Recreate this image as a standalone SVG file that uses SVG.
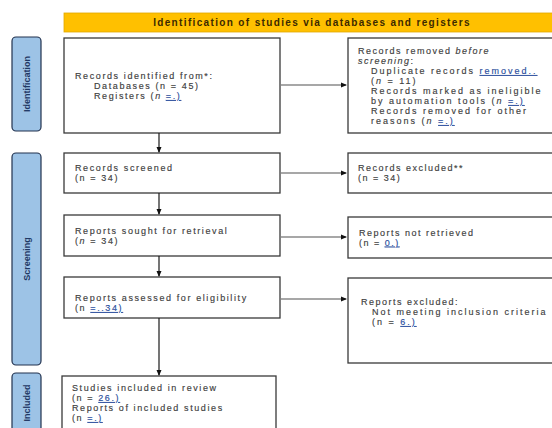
<svg xmlns="http://www.w3.org/2000/svg" width="552" height="428" viewBox="0 0 552 428">
<defs>
<marker id="ah" markerWidth="6" markerHeight="6" refX="5" refY="3" orient="auto" markerUnits="userSpaceOnUse">
<path d="M0,0.5 L6,3 L0,5.5 Z" fill="#111"/>
</marker>
<style>
.box{fill:#fff;stroke:#3a3a3a;stroke-width:1.3}
.bar{fill:#9dc3e6;stroke:#22324f;stroke-width:1.2}
.hdr{fill:#ffc000;stroke:#e0a800;stroke-width:0.8}
.t{font-family:"Liberation Sans",Arial,sans-serif;font-size:9px;fill:#404040;stroke:#404040;stroke-width:0.15;letter-spacing:1.6px}
.r{letter-spacing:1.5px}
.i{letter-spacing:2px}
.ht{font-family:"Liberation Sans",Arial,sans-serif;font-size:10px;font-weight:bold;fill:#3b2a00;letter-spacing:1.35px}
.st{font-family:"Liberation Sans",Arial,sans-serif;font-size:9px;font-weight:bold;fill:#1f3864}
.lk{fill:#2a4d9c;stroke:#2a4d9c;text-decoration:underline}
.v{stroke:#1a1a1a;stroke-width:1.2;fill:none}
.h{stroke:#8a8a8a;stroke-width:1.6;fill:none}
</style>
</defs>
<rect width="552" height="428" fill="#fff"/>

<g id="header">
<rect class="hdr" x="64" y="13" width="500" height="19"/>
<text class="ht" x="312" y="26" text-anchor="middle">Identification of studies via databases and registers</text>
</g>

<g id="bar-identification">
<rect class="bar" x="12" y="37" width="29" height="94" rx="4"/>
<text class="st" transform="translate(29.5,84) rotate(-90)" text-anchor="middle">Identification</text>
</g>
<g id="bar-screening">
<rect class="bar" x="12" y="153" width="29" height="212" rx="4"/>
<text class="st" transform="translate(29.5,259) rotate(-90)" text-anchor="middle">Screening</text>
</g>
<g id="bar-included">
<rect class="bar" x="12" y="373" width="29" height="64" rx="4"/>
<text class="st" transform="translate(29.5,403) rotate(-90)" text-anchor="middle">Included</text>
</g>

<g id="identified">
<rect class="box" x="64" y="38" width="216" height="95"/>
<text class="t" x="75" y="79">Records identified from*:</text>
<text class="t" x="94" y="89">Databases (n = 45)</text>
<text class="t" x="94" y="99">Registers (<tspan font-style="italic">n</tspan> <tspan class="lk">=.)</tspan></text>
</g>

<g id="removed">
<rect class="box" x="348" y="38" width="220" height="95"/>
<text class="t r" x="358" y="54">Records removed <tspan font-style="italic">before</tspan></text>
<text class="t r" x="358" y="64"><tspan font-style="italic">screening</tspan>:</text>
<text class="t i" x="371" y="74">Duplicate records <tspan class="lk">removed..</tspan></text>
<text class="t i" x="371" y="84">(<tspan font-style="italic">n</tspan> = 11)</text>
<text class="t i" x="371" y="94">Records marked as ineligible</text>
<text class="t i" x="371" y="104">by automation tools (<tspan font-style="italic">n</tspan> <tspan class="lk">=.)</tspan></text>
<text class="t i" x="371" y="114">Records removed for other</text>
<text class="t i" x="371" y="124">reasons (<tspan font-style="italic">n</tspan> <tspan class="lk">=.)</tspan></text>
</g>

<g id="screened">
<rect class="box" x="64" y="153" width="216" height="40"/>
<text class="t" x="75" y="171">Records screened</text>
<text class="t" x="75" y="181">(n = 34)</text>
</g>

<g id="excluded">
<rect class="box" x="348" y="153" width="220" height="40"/>
<text class="t r" x="358" y="171">Records excluded**</text>
<text class="t r" x="358" y="181">(n = 34)</text>
</g>

<g id="sought">
<rect class="box" x="64" y="215" width="216" height="41"/>
<text class="t" x="75" y="233.5">Reports sought for retrieval</text>
<text class="t" x="75" y="243.5">(<tspan font-style="italic">n</tspan> = 34)</text>
</g>

<g id="not-retrieved">
<rect class="box" x="348" y="217" width="220" height="41"/>
<text class="t r" x="359" y="235.5">Reports not retrieved</text>
<text class="t r" x="359" y="245.5">(n = <tspan class="lk">0.)</tspan></text>
</g>

<g id="assessed">
<rect class="box" x="64" y="277" width="216" height="41"/>
<text class="t" x="75" y="301">Reports assessed for eligibility</text>
<text class="t" x="75" y="311">(n <tspan class="lk">=..34)</tspan></text>
</g>

<g id="reports-excluded">
<rect class="box" x="348" y="278" width="220" height="85"/>
<text class="t r" x="361" y="305">Reports excluded:</text>
<text class="t i" x="372" y="315">Not meeting inclusion criteria</text>
<text class="t i" x="372" y="325">(n = <tspan class="lk">6.)</tspan></text>
</g>

<g id="included">
<rect class="box" x="62" y="376" width="214" height="62"/>
<text class="t" x="72" y="391">Studies included in review</text>
<text class="t" x="72" y="401">(n = <tspan class="lk">26.)</tspan></text>
<text class="t" x="72" y="411">Reports of included studies</text>
<text class="t" x="72" y="421">(n <tspan class="lk">=.)</tspan></text>
</g>

<g id="connectors">
<line class="v" x1="159" y1="133" x2="159" y2="152" marker-end="url(#ah)"/>
<line class="v" x1="159" y1="193" x2="159" y2="214" marker-end="url(#ah)"/>
<line class="v" x1="159" y1="256" x2="159" y2="276" marker-end="url(#ah)"/>
<line class="v" x1="159" y1="318" x2="159" y2="375" marker-end="url(#ah)"/>
<line class="h" x1="281" y1="85" x2="346" y2="85" marker-end="url(#ah)"/>
<line class="h" x1="281" y1="173" x2="346" y2="173" marker-end="url(#ah)"/>
<line class="h" x1="281" y1="237" x2="346" y2="237" marker-end="url(#ah)"/>
<line class="h" x1="281" y1="299" x2="346" y2="299" marker-end="url(#ah)"/>
</g>
</svg>
